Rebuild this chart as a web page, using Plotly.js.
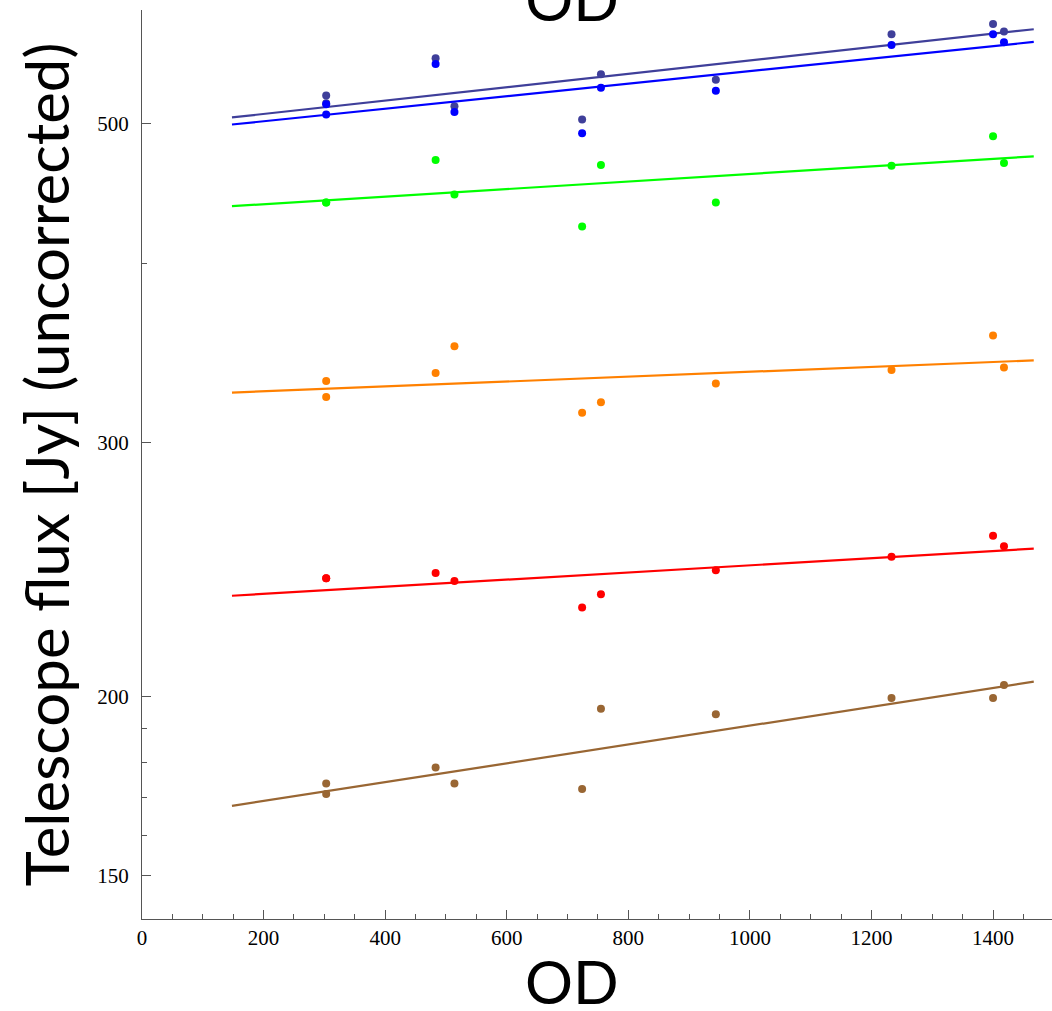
<!DOCTYPE html>
<html>
<head>
<meta charset="utf-8">
<script src="https://cdn.plot.ly/plotly-3.0.1.min.js"></script>
<style>
  html, body { margin: 0; padding: 0; background: #ffffff; }
  #chart { width: 1052px; height: 1011px; }
</style>
</head>
<body>
<div id="chart"></div>
<script>
// Observation dates (OD)
const od = [303, 303, 483, 514, 724, 755, 944, 1233, 1400, 1418];

// Telescope flux [Jy] per band (uncorrected)
const fluxDarkBlue = [523.2, 516.8, 555.4, 514.4, 503.5, 541.4, 536.5, 577.1, 586.8, 579.7];
const fluxBlue     = [515.9, 507.5, 550.4, 509.7, 492.6, 529.7, 527.3, 567.2, 577.1, 569.7];
const fluxGreen    = [440.8, 440.8, 472.0, 446.5, 424.2, 468.2, 440.8, 467.5, 490.2, 469.7];
const fluxOrange   = [331.3, 322.9, 335.6, 350.3, 314.8, 320.2, 329.9, 337.1, 356.3, 338.5];
const fluxRed      = [241.6, 241.6, 243.6, 240.5, 230.5, 235.5, 244.7, 250.0, 258.6, 254.3];
const fluxBrown    = [173.9, 171.0, 178.4, 173.9, 172.4, 196.0, 194.3, 199.4, 199.4, 203.6];

// Fitted trend lines (end points)
const fitOD = [148, 1467];
const fitDarkBlue = [505.2, 581.8];
const fitBlue     = [499.5, 570.1];
const fitGreen    = [438.3, 474.7];
const fitOrange   = [325.2, 342.4];
const fitRed      = [234.9, 253.3];
const fitBrown    = [167.8, 204.7];

// Axis ticks
const yTickVals = [150, 200, 300, 500];
const yTickText = ['150', '200', '300', '500'];
const yMinorVals = [160, 170, 180, 190, 400];
const xTickVals = [0, 200, 400, 600, 800, 1000, 1200, 1400];

const bands = [
  {pts: fluxDarkBlue, fit: fitDarkBlue, color: '#3f3f9a'},
  {pts: fluxBlue,     fit: fitBlue,     color: '#0000ff'},
  {pts: fluxGreen,    fit: fitGreen,    color: '#00ff00'},
  {pts: fluxOrange,   fit: fitOrange,   color: '#ff8000'},
  {pts: fluxRed,      fit: fitRed,      color: '#ff0000'},
  {pts: fluxBrown,    fit: fitBrown,    color: '#996633'}
];

const traces = [];
bands.forEach(b => {
  traces.push({
    x: fitOD, y: b.fit, type: 'scatter', mode: 'lines',
    line: {color: b.color, width: 2.2}, hoverinfo: 'skip', showlegend: false
  });
  traces.push({
    x: od, y: b.pts, type: 'scatter', mode: 'markers',
    marker: {color: b.color, size: 8}, showlegend: false
  });
});

const tickFont = {family: '"Liberation Serif", "Times New Roman", serif', size: 21, color: '#000'};
const titleFont = {family: 'Lato, "Open Sans", sans-serif', size: 60, color: '#000'};

const layout = {
  width: 1052, height: 1011,
  margin: {l: 142, r: 0, t: 10, b: 92, pad: 0},
  paper_bgcolor: '#ffffff', plot_bgcolor: '#ffffff',
  showlegend: false,
  title: {
    text: 'OD', font: titleFont,
    x: 572 / 1052, xanchor: 'center', xref: 'container',
    y: 1.0, yanchor: 'middle', yref: 'container'
  },
  xaxis: {
    range: [0, 1497],
    tickmode: 'array', tickvals: xTickVals,
    ticks: 'inside', ticklen: 9, tickwidth: 1, tickcolor: '#555',
    minor: {dtick: 50, tick0: 0, ticks: 'inside', ticklen: 5, tickwidth: 1, tickcolor: '#555', showgrid: false},
    showline: true, linecolor: '#555', linewidth: 1,
    showgrid: false, zeroline: false,
    tickfont: tickFont
  },
  yaxis: {
    type: 'log',
    range: [Math.log10(140), Math.log10(600)],
    tickmode: 'array', tickvals: yTickVals, ticktext: yTickText,
    ticks: 'inside', ticklen: 9, tickwidth: 1, tickcolor: '#555',
    minor: {tickmode: 'array', tickvals: yMinorVals, ticks: 'inside', ticklen: 5, tickwidth: 1, tickcolor: '#555', showgrid: false},
    showline: true, linecolor: '#555', linewidth: 1,
    showgrid: false, zeroline: false,
    tickfont: tickFont,
    ticklabelstandoff: 8,
    title: {text: 'Telescope flux [Jy] (uncorrected)', font: titleFont, standoff: 8}
  },
  annotations: [{
    text: 'OD', font: titleFont,
    xref: 'paper', x: (572 - 142) / 910, xanchor: 'center',
    yref: 'paper', y: -0.068, yanchor: 'middle',
    showarrow: false
  }]
};

Plotly.newPlot('chart', traces, layout, {displayModeBar: false, staticPlot: true});
</script>
</body>
</html>
